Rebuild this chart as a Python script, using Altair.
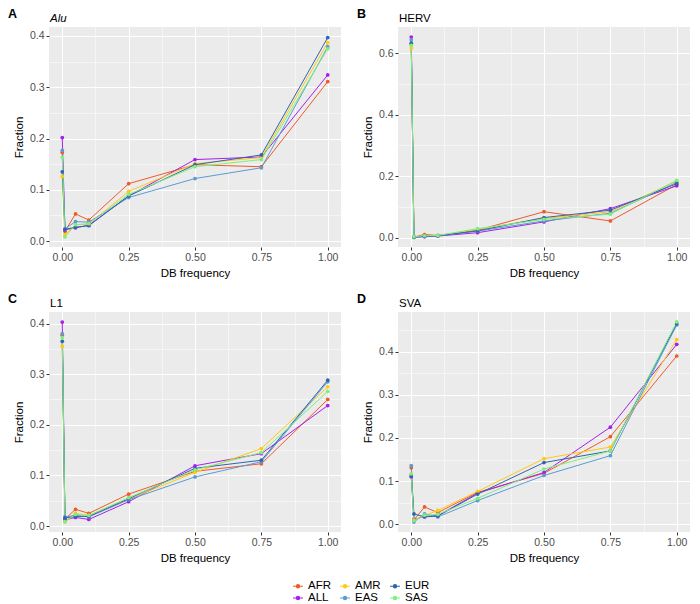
import altair as alt
import pandas as pd

# ---------------- data ----------------
populations = ["AFR", "ALL", "AMR", "EAS", "EUR", "SAS"]
pop_colors = ["#F05A28", "#A61EF0", "#FFC914", "#5B9BD5", "#2F64B0", "#7CF07C"]
db_freq = [0.0, 0.01, 0.05, 0.1, 0.25, 0.5, 0.75, 1.0]

panel_names = ["Alu", "HERV", "L1", "SVA"]
panel_tags = ["A", "B", "C", "D"]

alu = {
    "AFR": [0.173, 0.019, 0.053, 0.041, 0.112, 0.149, 0.145, 0.311],
    "ALL": [0.202, 0.022, 0.026, 0.031, 0.088, 0.159, 0.164, 0.324],
    "AMR": [0.126, 0.012, 0.032, 0.033, 0.097, 0.151, 0.163, 0.387],
    "EAS": [0.177, 0.024, 0.038, 0.037, 0.085, 0.122, 0.143, 0.379],
    "EUR": [0.135, 0.023, 0.027, 0.030, 0.088, 0.149, 0.168, 0.397],
    "SAS": [0.163, 0.008, 0.032, 0.034, 0.091, 0.145, 0.159, 0.375],
}
herv = {
    "AFR": [0.630, 0.003, 0.011, 0.008, 0.025, 0.085, 0.055, 0.173],
    "ALL": [0.652, 0.002, 0.004, 0.006, 0.017, 0.052, 0.095, 0.169],
    "AMR": [0.616, 0.003, 0.006, 0.007, 0.028, 0.063, 0.085, 0.184],
    "EAS": [0.643, 0.002, 0.005, 0.007, 0.022, 0.055, 0.080, 0.180],
    "EUR": [0.632, 0.003, 0.005, 0.007, 0.023, 0.066, 0.090, 0.176],
    "SAS": [0.625, 0.004, 0.007, 0.008, 0.030, 0.060, 0.077, 0.187],
}
l1 = {
    "AFR": [0.377, 0.014, 0.033, 0.025, 0.063, 0.108, 0.123, 0.250],
    "ALL": [0.403, 0.012, 0.017, 0.013, 0.048, 0.119, 0.143, 0.238],
    "AMR": [0.355, 0.009, 0.025, 0.021, 0.053, 0.106, 0.153, 0.275],
    "EAS": [0.380, 0.018, 0.021, 0.018, 0.052, 0.097, 0.127, 0.285],
    "EUR": [0.365, 0.016, 0.019, 0.019, 0.054, 0.114, 0.130, 0.288],
    "SAS": [0.372, 0.008, 0.023, 0.021, 0.056, 0.111, 0.145, 0.266],
}
sva = {
    "AFR": [0.131, 0.010, 0.040, 0.027, 0.074, 0.118, 0.203, 0.390],
    "ALL": [0.110, 0.011, 0.018, 0.020, 0.072, 0.120, 0.225, 0.417],
    "AMR": [0.115, 0.010, 0.020, 0.032, 0.076, 0.152, 0.179, 0.428],
    "EAS": [0.136, 0.005, 0.024, 0.017, 0.055, 0.113, 0.159, 0.462],
    "EUR": [0.112, 0.024, 0.017, 0.019, 0.070, 0.143, 0.170, 0.465],
    "SAS": [0.117, 0.008, 0.021, 0.023, 0.060, 0.128, 0.170, 0.469],
}
panel_data = [alu, herv, l1, sva]

x_ticks = [0.0, 0.125, 0.25, 0.375, 0.5, 0.625, 0.75, 0.875, 1.0]
y_ticks_04 = [0.0, 0.05, 0.1, 0.15, 0.2, 0.25, 0.3, 0.35, 0.4, 0.45]
y_ticks_06 = [0.0, 0.1, 0.2, 0.3, 0.4, 0.5, 0.6]

# ---------------- styling ----------------
FONT = "Liberation Sans"
W, H = 292, 220
LEGEND_PATH = "M-1,0L1,0M0.32,0A0.32,0.32,0,1,1,-0.32,0A0.32,0.32,0,1,1,0.32,0Z"


def major_test(mult):
    return f"abs(datum.value*{mult} - round(datum.value*{mult})) < 1e-6"


def make_axis(title, mult, fmt, values):
    t = major_test(mult)
    return {
        "title": title,
        "values": values,
        "labelExpr": f"{t} ? format(datum.value, '{fmt}') : ''",
        "gridColor": "#FFFFFF",
        "gridWidth": {"condition": {"test": t, "value": 1.1}, "value": 0.5},
        "tickOpacity": {"condition": {"test": t, "value": 1}, "value": 0},
        "tickColor": "#333333",
        "tickSize": 3,
        "domain": False,
        "labelFont": FONT,
        "labelFontSize": 10.5,
        "labelColor": "#4D4D4D",
        "labelPadding": 2,
        "titleFont": FONT,
        "titleFontSize": 11.5,
        "titleFontWeight": "normal",
        "titleColor": "#000000",
        "titlePadding": 5,
    }


def panel(idx, ydom, yvals, ymult):
    d = panel_data[idx]
    rows = []
    for p in populations:
        for f, v in zip(db_freq, d[p]):
            rows.append({"pop": p, "freq": f, "frac": v})
    df = pd.DataFrame(rows)

    color = alt.Color(
        "pop:N",
        scale=alt.Scale(domain=populations, range=pop_colors),
        legend=alt.Legend(
            title=None,
            orient="none",
            legendX=243,
            legendY=553,
            columns=3,
            symbolType=LEGEND_PATH,
            symbolSize=100,
            symbolStrokeWidth=1.2,
            labelFont=FONT,
            labelFontSize=11.5,
            labelColor="#000000",
            labelOffset=4,
            columnPadding=6,
            rowPadding=0,
            symbolOffset=0,
        ),
    )
    x = alt.X(
        "freq:Q",
        scale=alt.Scale(domain=[-0.05, 1.05], nice=False, zero=False),
        axis=make_axis("DB frequency", 4, ".2f", x_ticks),
    )
    y = alt.Y(
        "frac:Q",
        scale=alt.Scale(domain=ydom, nice=False, zero=False),
        axis=make_axis("Fraction", ymult, ".1f", yvals),
    )
    base = alt.Chart(df)
    lines = base.mark_line(strokeWidth=1, clip=True).encode(
        x=x, y=y, color=color, detail="pop:N"
    )
    points = base.mark_circle(size=14, opacity=1, clip=True).encode(
        x=x, y=y, color=color
    )
    lab_df = pd.DataFrame({"tag": [panel_tags[idx]], "name": [panel_names[idx]]})
    tag = alt.Chart(lab_df).mark_text(
        font=FONT, fontSize=12.5, fontWeight="bold", align="left", baseline="top",
        color="#000000",
    ).encode(text="tag:N", x=alt.value(-41), y=alt.value(-19))
    italic = panel_names[idx] == "Alu"
    name = alt.Chart(lab_df).mark_text(
        font=FONT, fontSize=11.5, fontStyle="italic" if italic else "normal",
        align="left", baseline="alphabetic", color="#000000",
    ).encode(text="name:N", x=alt.value(1), y=alt.value(-5))
    return alt.layer(lines, points, tag, name).properties(width=W, height=H)


pA = panel(0, [-0.0115, 0.4175], y_ticks_04[:9], 10)
pB = panel(1, [-0.0295, 0.6845], y_ticks_06, 5)
pC = panel(2, [-0.0118, 0.4228], y_ticks_04[:9], 10)
pD = panel(3, [-0.018, 0.492], y_ticks_04, 10)

chart = (
    alt.vconcat(
        alt.hconcat(pA, pB, spacing=16),
        alt.hconcat(pC, pD, spacing=16),
        spacing=14,
    )
    .resolve_scale(color="shared")
    .properties(padding={"left": 0, "top": 0, "right": 0, "bottom": 0}, background="#FFFFFF")
    .configure_view(fill="#EBEBEB", strokeWidth=0)
)

chart.save("out.html", embed_options={"renderer": "svg", "actions": False})
